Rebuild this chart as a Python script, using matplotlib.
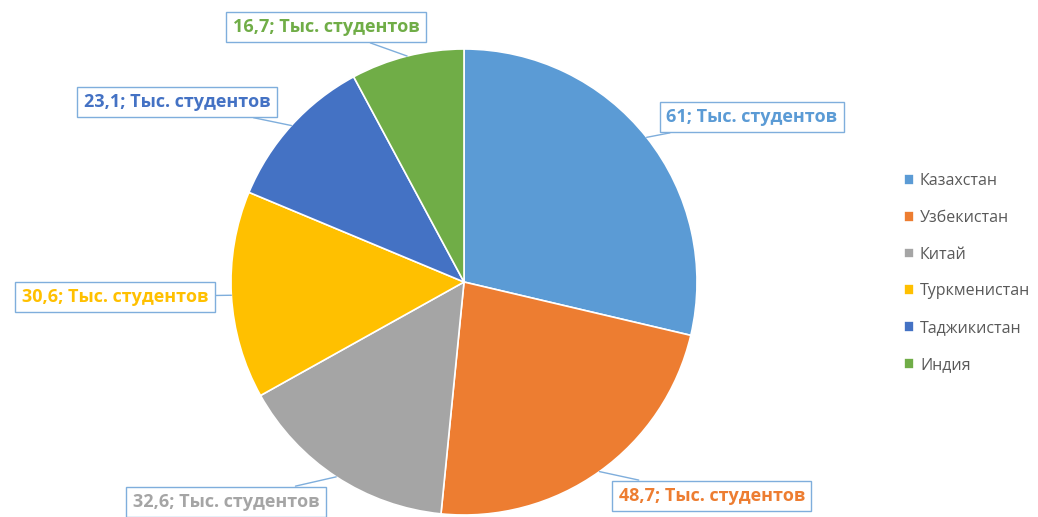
import numpy as np
import matplotlib.pyplot as plt

plt.rcParams['font.family'] = ['Open Sans', 'DejaVu Sans']

# данные
countries = ['Казахстан', 'Узбекистан', 'Китай', 'Туркменистан', 'Таджикистан', 'Индия']
students = [61, 48.7, 32.6, 30.6, 23.1, 16.7]
value_labels = ['61', '48,7', '32,6', '30,6', '23,1', '16,7']
colors = ['#5B9BD5', '#ED7D31', '#A5A5A5', '#FFC000', '#4472C4', '#70AD47']

# положение подписей (в радиусах пирога)
label_pos = [(1.236, 0.708), (1.064, -0.918), (-1.021, -0.944),
             (-1.498, -0.064), (-1.232, 0.773), (-0.592, 1.094)]

W, H = 1038, 517
R = 233.0
cx, cy = 464, 282

fig = plt.figure(figsize=(W / 100, H / 100), dpi=100)
ax = fig.add_axes([0, 0, 1, 1])

wedges, _ = ax.pie(students, colors=colors, startangle=90, counterclock=False,
                   radius=1.0, wedgeprops=dict(edgecolor='white', linewidth=1.2))
ax.set_xlim(-cx / R, (W - cx) / R)
ax.set_ylim(-(H - cy) / R, cy / R)
ax.set_aspect('auto')

for w, lab, pos, col in zip(wedges, value_labels, label_pos, colors):
    mid = np.deg2rad((w.theta1 + w.theta2) / 2)
    xy = (np.cos(mid), np.sin(mid))
    ax.annotate(lab + '; Тыс. студентов', xy=xy, xytext=pos,
                ha='center', va='center', fontsize=13, fontweight='bold', color=col,
                bbox=dict(boxstyle='square,pad=0.35', fc='white', ec='#7FAEDC', lw=1),
                arrowprops=dict(arrowstyle='-', color='#7FAEDC', lw=1, shrinkA=0, shrinkB=0),
                annotation_clip=False)

fig.legend(wedges, countries, loc='center left', bbox_to_anchor=(0.857, 0.472),
           frameon=False, fontsize=11.5, labelcolor='#595959',
           handlelength=0.65, handleheight=0.65, handletextpad=0.35, labelspacing=1.3)

fig.savefig('out.png', dpi=100)
